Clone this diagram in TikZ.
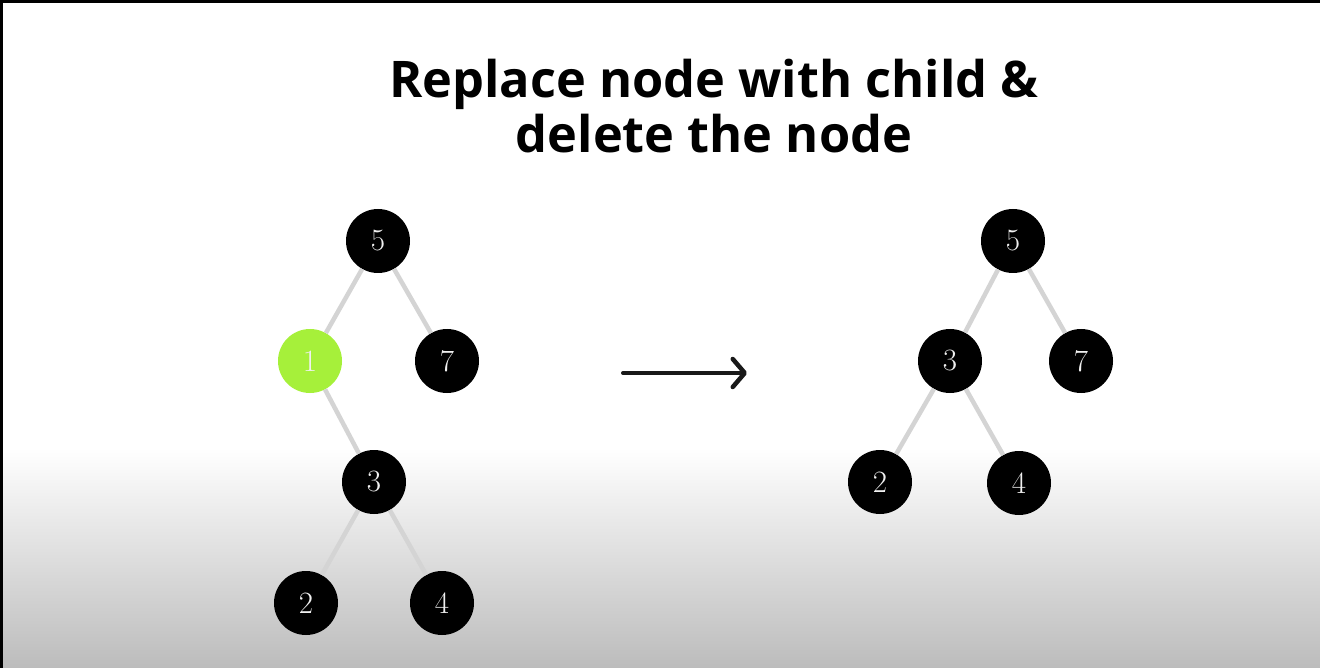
\documentclass[tikz,border=0pt]{standalone}
\usepackage{fontspec}
\newfontfamily\titlefont{Open Sans}
\usetikzlibrary{arrows.meta}
\definecolor{leaf}{RGB}{166,240,58}
\definecolor{edgegray}{RGB}{212,212,212}
\definecolor{bottomgray}{RGB}{188,188,188}
\definecolor{digit}{RGB}{240,240,240}
\tikzset{
  tnode/.style={circle, fill=black, minimum size=64pt, inner sep=0pt,
    text=digit, font=\fontsize{31}{31}\selectfont},
  hinode/.style={tnode, fill=leaf},
  tedge/.style={draw=edgegray, line width=4.5pt},
  bigarrow/.style={draw=black!90, line width=4pt, line cap=round,
    -{Straight Barb[round, length=12pt, width=28pt, line width=4.5pt]}}
}
\begin{document}
\begin{tikzpicture}[x=1pt,y=-1pt]
\useasboundingbox (0,0) rectangle (1320,668);
\fill[white] (0,0) rectangle (1320,668);
\shade[top color=white, bottom color=bottomgray] (0,448) rectangle (1320,668);
\fill[black] (0,0) rectangle (1320,3);
\fill[black] (0,0) rectangle (2.5,668);
% title
\node[font=\titlefont\bfseries\fontsize{50.5}{55}\selectfont, align=center, anchor=north] (title) at (714,56) {Replace node with child \&\\delete the node};
% left tree
\node[tnode] (l5) at (378,241) {5};
\node[hinode] (l1) at (310,361) {1};
\node[tnode] (l7) at (447,361) {7};
\node[tnode] (l3) at (374,482) {3};
\node[tnode] (l2) at (306,603) {2};
\node[tnode] (l4) at (442,603) {4};
% right tree
\node[tnode] (r5) at (1013,241) {5};
\node[tnode] (r3) at (950,361) {3};
\node[tnode] (r7) at (1081,361) {7};
\node[tnode] (r2) at (880,482) {2};
\node[tnode] (r4) at (1019,483) {4};
% edges
\draw[tedge] (l5) -- (l1);
\draw[tedge] (l5) -- (l7);
\draw[tedge] (l1) -- (l3);
\draw[tedge] (l3) -- (l2);
\draw[tedge] (l3) -- (l4);
\draw[tedge] (r5) -- (r3);
\draw[tedge] (r5) -- (r7);
\draw[tedge] (r3) -- (r2);
\draw[tedge] (r3) -- (r4);
% arrow
\coordinate (a1) at (623,373);
\coordinate (a2) at (747,373);
\draw[bigarrow] (a1) -- (a2);
\end{tikzpicture}
\end{document}
